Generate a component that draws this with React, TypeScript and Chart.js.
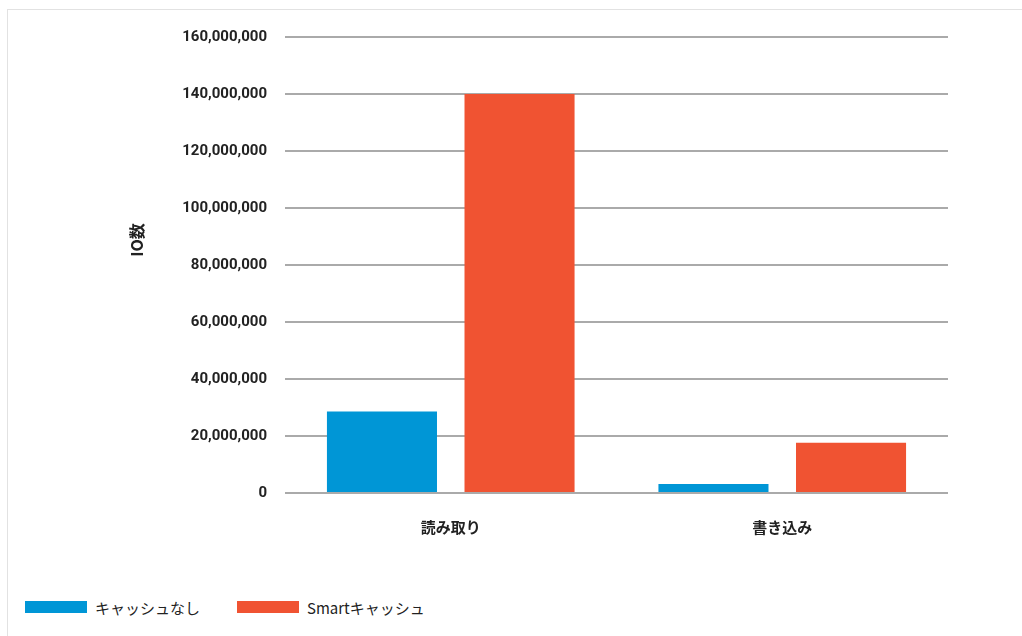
import React, { useEffect, useRef } from "react";
import { Chart, registerables } from "chart.js";

Chart.register(...registerables);

const categories = ["読み取り", "書き込み"];
const seriesNames = ["キャッシュなし", "Smartキャッシュ"];
const noCacheValues = [28600000, 3200000];
const smartCacheValues = [140000000, 17600000];
const seriesColors = ["#0096D6", "#F05332"];
const yTitle = "IO数";
const yMax = 160000000;
const yStep = 20000000;

const FONT = "Roboto, 'Noto Sans CJK JP', sans-serif";
const JFONT = "'Noto Sans CJK JP', 'Noto Sans', sans-serif";

const yTitlePlugin = {
  id: "yTitlePlugin",
  afterDraw(chart: any) {
    const ctx = chart.ctx;
    ctx.save();
    ctx.translate(137, 240);
    ctx.rotate(-Math.PI / 2);
    ctx.font = `bold 16px ${JFONT}`;
    ctx.fillStyle = "#222";
    ctx.textAlign = "center";
    ctx.textBaseline = "middle";
    ctx.fillText(yTitle, 0, 0);
    ctx.restore();
  },
};

export default function App() {
  const ref = useRef<HTMLCanvasElement | null>(null);
  useEffect(() => {
    if (!ref.current) return;
    const chart = new Chart(ref.current, {
      type: "bar",
      data: {
        labels: categories,
        datasets: [
          {
            label: seriesNames[0],
            data: noCacheValues,
            backgroundColor: seriesColors[0],
            barPercentage: 0.8,
            categoryPercentage: 0.83,
          },
          {
            label: seriesNames[1],
            data: smartCacheValues,
            backgroundColor: seriesColors[1],
            barPercentage: 0.8,
            categoryPercentage: 0.83,
          },
        ],
      },
      options: {
        responsive: false,
        animation: false,
        layout: { padding: { left: 0, right: 74, top: 37, bottom: 0 } },
        plugins: {
          legend: { display: false },
          tooltip: { enabled: false },
        },
        scales: {
          x: {
            grid: { display: false, drawTicks: false },
            border: { display: false },
            ticks: {
              padding: 25,
              color: "#222",
              font: { family: JFONT, size: 15, weight: "bold" },
            },
            afterFit: (s: any) => {
              s.height = 67;
            },
          },
          y: {
            min: 0,
            max: yMax,
            grid: { color: "#aaaaaa", lineWidth: 2, drawTicks: false },
            border: { display: false },
            ticks: {
              stepSize: yStep,
              padding: 18,
              color: "#222",
              font: { family: FONT, size: 15, weight: "bold" },
              callback: (v: any) => Number(v).toLocaleString("en-US"),
            },
            afterFit: (s: any) => {
              s.width = 285;
            },
          },
        },
      },
      plugins: [yTitlePlugin],
    });
    return () => chart.destroy();
  }, []);

  return (
    <div style={{ position: "absolute", left: 0, top: 0, width: 1022, height: 636, background: "#fff" }}>
      <div
        style={{
          position: "absolute",
          left: 7,
          top: 9,
          right: 0,
          bottom: 0,
          borderTop: "1px solid #e2e2e2",
          borderLeft: "1px solid #e2e2e2",
        }}
      />
      <canvas ref={ref} width={1022} height={560} style={{ position: "absolute", left: 0, top: 0 }} />
      <div
        style={{
          position: "absolute",
          left: 25,
          top: 597,
          display: "flex",
          alignItems: "center",
          fontFamily: JFONT,
          fontSize: 15,
          color: "#222",
          height: 20,
        }}
      >
        {seriesNames.map((n, i) => (
          <div key={n} style={{ display: "flex", alignItems: "center", marginRight: 37 }}>
            <div style={{ width: 62, height: 12, background: seriesColors[i], marginRight: 8 }} />
            <span>{n}</span>
          </div>
        ))}
      </div>
    </div>
  );
}
